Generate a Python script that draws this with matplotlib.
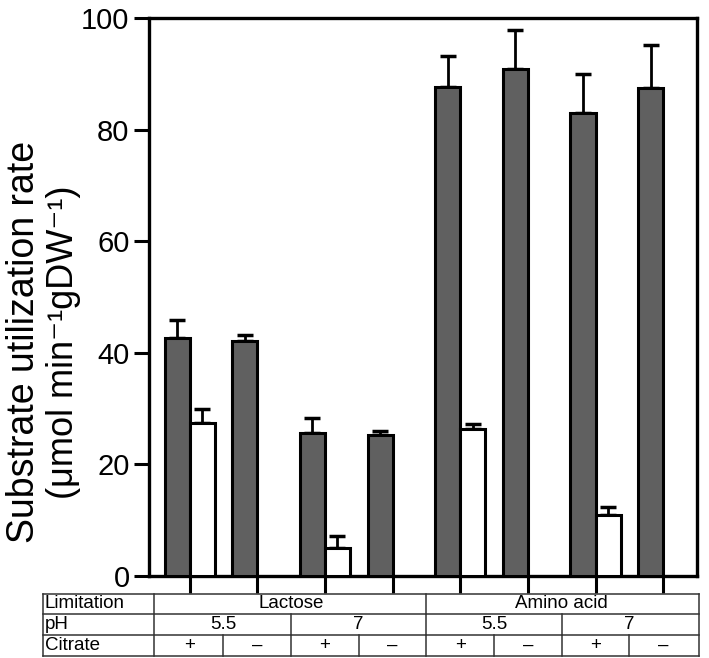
import numpy as np
import matplotlib
matplotlib.use("Agg")
import matplotlib.pyplot as plt
from matplotlib.transforms import blended_transform_factory

plt.rcParams["font.family"] = ["Liberation Sans", "DejaVu Sans"]

# values
limitation = ["Lactose", "Amino acid"]
ph_levels = ["5.5", "7", "5.5", "7"]
citrate = ["+", "\u2013", "+", "\u2013", "+", "\u2013", "+", "\u2013"]

dark_vals = [42.6, 42.2, 25.7, 25.2, 87.6, 90.9, 83.0, 87.4]
dark_err = [3.2, 1.0, 2.7, 0.8, 5.6, 7.0, 7.0, 7.8]
white_idx = [0, 2, 4, 6]
white_vals = [27.5, 5.1, 26.3, 11.0]
white_err = [2.4, 2.1, 0.9, 1.4]

DARK = "#606060"
BW = 0.37

fig = plt.figure(figsize=(7.09, 6.58), dpi=100)
ax = fig.add_axes([149 / 709, 1 - 576 / 658, (697 - 149) / 709, (576 - 18) / 658])

x = np.arange(len(dark_vals))
ax.bar(x - BW / 2, dark_vals, width=BW, color=DARK, edgecolor="black", linewidth=2.2, zorder=3)
ax.errorbar(x - BW / 2, dark_vals, yerr=[np.zeros(len(dark_err)), dark_err], fmt="none",
            ecolor="black", elinewidth=2, capsize=6, capthick=2.5, zorder=2)
xw = x[white_idx]
ax.bar(xw + BW / 2, white_vals, width=BW, color="white", edgecolor="black", linewidth=2.2, zorder=3)
ax.errorbar(xw + BW / 2, white_vals, yerr=[np.zeros(len(white_err)), white_err], fmt="none",
            ecolor="black", elinewidth=2, capsize=6, capthick=2.5, zorder=2)

ax.set_xlim(-0.6, 7.5)
ax.set_ylim(0, 100)
ax.set_yticks([0, 20, 40, 60, 80, 100])
ax.set_xticks(x)
ax.set_xticklabels([])
ax.tick_params(axis="y", direction="out", length=11, width=2.2, labelsize=21, pad=3)
ax.tick_params(axis="x", direction="out", length=12, width=2.2)
for s in ax.spines.values():
    s.set_linewidth(2.4)

ylab_y = 1 - 342 / 658
fig.text(0.034, ylab_y, "Substrate utilization rate",
         rotation=90, ha="center", va="center", fontsize=27)
fig.text(0.089, ylab_y, "(\u03bcmol min\u207b\u00b9gDW\u207b\u00b9)",
         rotation=90, ha="center", va="center", fontsize=26)

# table below the axis
tr = blended_transform_factory(ax.transData, fig.transFigure)
x_left, x_lab, x_right = -2.17, -0.52, 7.53
rows_y = [1 - 594 / 658, 1 - 614 / 658, 1 - 635 / 658, 1 - 656 / 658]
lc = "#333333"
lw = 1.1

def hline(y, x0, x1):
    ax.plot([x0, x1], [y, y], color=lc, lw=lw, transform=tr, clip_on=False)

def vline(xx, y0, y1):
    ax.plot([xx, xx], [y0, y1], color=lc, lw=lw, transform=tr, clip_on=False)

for y in rows_y:
    hline(y, x_left, x_right)
vline(x_left, rows_y[0], rows_y[3])
vline(x_lab, rows_y[0], rows_y[3])
vline(x_right, rows_y[0], rows_y[3])
vline(3.5, rows_y[0], rows_y[1])
for b in [1.5, 3.5, 5.5]:
    vline(b, rows_y[1], rows_y[2])
for b in np.arange(0.5, 7, 1):
    vline(b, rows_y[2], rows_y[3])

tfont = dict(fontsize=13.5)
mids = [(rows_y[i] + rows_y[i + 1]) / 2 for i in range(3)]
for lab, ym in zip(["Limitation", "pH", "Citrate"], mids):
    ax.text(x_left + 0.03, ym, lab, ha="left", va="center", transform=tr, **tfont)
for i, lab in enumerate(limitation):
    ax.text(1.5 + 4 * i, mids[0], lab, ha="center", va="center", transform=tr, **tfont)
for i, lab in enumerate(ph_levels):
    ax.text(0.5 + 2 * i, mids[1], lab, ha="center", va="center", transform=tr, **tfont)
for i, lab in enumerate(citrate):
    ax.text(i, mids[2], lab, ha="center", va="center", transform=tr, **tfont)

fig.savefig("out.png", dpi=100)
